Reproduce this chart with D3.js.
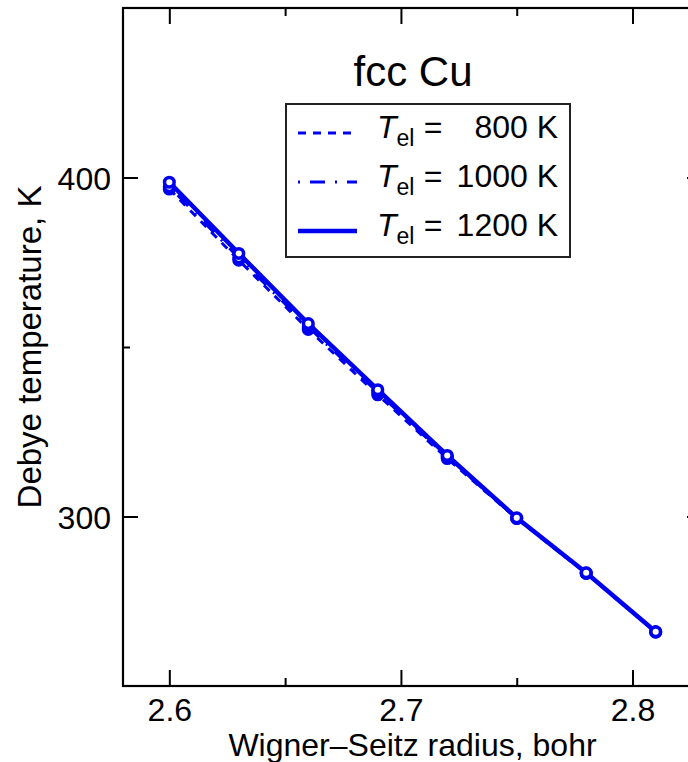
<!DOCTYPE html>
<html>
<head>
<meta charset="utf-8">
<script src="https://cdn.jsdelivr.net/npm/d3@7"></script>
<style>
body{margin:0;background:#fff;}
svg{display:block;font-family:"Liberation Sans",Arial,Helvetica,sans-serif;}
</style>
</head>
<body>
<div id="chart"></div>
<script>
(function(){
"use strict"
//---Debye temperature of fcc Cu vs Wigner-Seitz radius---

var radius = [2.60, 2.63, 2.66, 2.69, 2.72, 2.75, 2.78, 2.81],
	theta800  = [396.6, 375.6, 355.2, 335.9, 317.1, 299.4, 283.2, 265.9],
	theta1000 = [397.3, 376.3, 355.9, 336.6, 317.5, 299.5, 283.3, 266.0],
	theta1200 = [398.6, 377.6, 356.9, 337.4, 318.0, 299.6, 283.4, 266.0],
	tempLabels = ["800", "1000", "1200"],

	xMajor = [2.6, 2.7, 2.8],
	xMinor = [2.65, 2.75],
	yMajor = [300, 400],
	yMinor = [350];

var width = 688, height = 762,
	box = {left:123, right:702, top:8, bottom:686},
	blue = "#0000f0";

var x = d3.scaleLinear().domain([2.58, 2.83]).range([box.left, box.right]),
	y = d3.scaleLinear().domain([250, 450]).range([box.bottom, box.top]);

var svg = d3.select('#chart').append('svg')
	.attr('width', width)
	.attr('height', height);

//ticks (all pointing inward)
var addAxis = function(axis, tx, ty, labels){
	var g = svg.append('g')
		.attr('transform', 'translate(' + tx + ',' + ty + ')')
		.call(axis);
	g.select('.domain').remove();
	g.selectAll('line').attr('stroke', '#000').attr('stroke-width', 2);
	g.selectAll('text').attr('fill', '#000').style('font-size', '32px');
	if (!labels) {g.selectAll('text').remove();}
	return g;
};

addAxis(d3.axisBottom(x).tickValues(xMajor).tickSizeInner(-16).tickSizeOuter(0)
	.tickPadding(12).tickFormat(d3.format('.1f')), 0, box.bottom, true);
addAxis(d3.axisBottom(x).tickValues(xMinor).tickSizeInner(-8).tickSizeOuter(0), 0, box.bottom, false);
addAxis(d3.axisTop(x).tickValues(xMajor).tickSizeInner(-16).tickSizeOuter(0), 0, box.top, false);
addAxis(d3.axisTop(x).tickValues(xMinor).tickSizeInner(-8).tickSizeOuter(0), 0, box.top, false);

addAxis(d3.axisLeft(y).tickValues(yMajor).tickSizeInner(-15).tickSizeOuter(0)
	.tickPadding(12).tickFormat(d3.format('d')), box.left, 0, true)
	.selectAll('text').attr('dy', '0.38em');
addAxis(d3.axisLeft(y).tickValues(yMinor).tickSizeInner(-7).tickSizeOuter(0), box.left, 0, false);
addAxis(d3.axisRight(y).tickValues(yMajor).tickSizeInner(-15).tickSizeOuter(0), box.right, 0, false);
addAxis(d3.axisRight(y).tickValues(yMinor).tickSizeInner(-7).tickSizeOuter(0), box.right, 0, false);

//frame
svg.append('rect')
	.attr('x', box.left)
	.attr('y', box.top)
	.attr('width', box.right - box.left)
	.attr('height', box.bottom - box.top)
	.style('fill', 'none')
	.style('stroke', '#000')
	.style('stroke-width', 2.2);

//axis titles
svg.append('text')
	.attr('x', (box.left + box.right)/2)
	.attr('y', 756)
	.attr('text-anchor', 'middle')
	.style('font-size', '32px')
	.text('Wigner\u2013Seitz radius, bohr');

svg.append('text')
	.attr('transform', 'translate(41,' + (box.top + box.bottom)/2 + ') rotate(-90)')
	.attr('text-anchor', 'middle')
	.style('font-size', '33px')
	.text('Debye temperature, K');

svg.append('text')
	.attr('x', 413)
	.attr('y', 86)
	.attr('text-anchor', 'middle')
	.style('font-size', '42px')
	.text('fcc Cu');

//series
var series = [
	{vals: theta800,  dash: '8,7',        w: 3},
	{vals: theta1000, dash: '2,10,15,10', w: 3},
	{vals: theta1200, dash: null,         w: 4.5}
];

var line = d3.line()
	.x(function(d, i){return x(radius[i]);})
	.y(function(d){return y(d);});

series.forEach(function(s){
	svg.append('path')
		.datum(s.vals)
		.attr('d', line)
		.style('fill', 'none')
		.style('stroke', blue)
		.style('stroke-width', s.w)
		.style('stroke-dasharray', s.dash);
});

series.forEach(function(s){
	svg.selectAll(null)
		.data(s.vals)
		.enter()
			.append('circle')
				.attr('cx', function(d, i){return x(radius[i]);})
				.attr('cy', function(d){return y(d);})
				.attr('r', 4.8)
				.style('fill', '#fff')
				.style('stroke', blue)
				.style('stroke-width', 3.5);
});

//legend
var leg = svg.append('g');
leg.append('rect')
	.attr('x', 286).attr('y', 104)
	.attr('width', 284).attr('height', 153)
	.style('fill', '#fff')
	.style('stroke', '#222')
	.style('stroke-width', 2);

series.forEach(function(s, i){
	var base = 138 + i*49;
	leg.append('line')
		.attr('x1', 298).attr('x2', 357)
		.attr('y1', base - 5).attr('y2', base - 5)
		.style('stroke', blue)
		.style('stroke-width', s.w)
		.style('stroke-dasharray', s.dash);
	var t = leg.append('text')
		.attr('x', 377)
		.attr('y', base)
		.style('font-size', '32px');
	t.append('tspan').style('font-style', 'italic').text('T');
	t.append('tspan').attr('dy', 8).style('font-size', '23px').text('el');
	leg.append('text')
		.attr('x', 433).attr('y', base)
		.attr('text-anchor', 'middle')
		.style('font-size', '32px')
		.text('=');
	leg.append('text')
		.attr('x', 558).attr('y', base)
		.attr('text-anchor', 'end')
		.style('font-size', '32px')
		.text(tempLabels[i] + ' K');
});

})();
</script>
</body>
</html>
